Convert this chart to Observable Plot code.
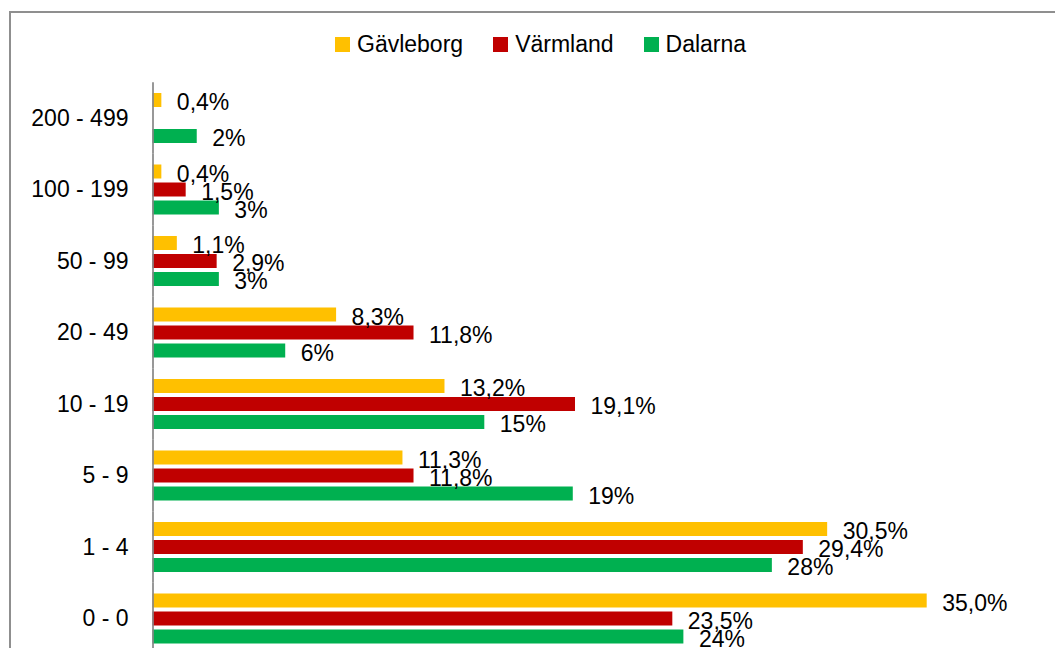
<!DOCTYPE html>
<html>
<head>
<meta charset="utf-8">
<script src="https://cdn.jsdelivr.net/npm/d3@7"></script>
<script src="https://cdn.jsdelivr.net/npm/@observablehq/plot@0.6"></script>
<style>
  html, body { margin: 0; padding: 0; background: #fff; overflow: hidden; }
  #wrap { position: relative; width: 1055px; height: 648px; overflow: hidden; font-family: "Liberation Sans", Arial, sans-serif; }
  #border { position: absolute; left: 9px; top: 11px; width: 1200px; height: 800px; border: 2px solid #8f8f8f; box-sizing: border-box; }
  #chart { position: absolute; left: 0; top: 0; }
  #legend { position: absolute; left: 335px; top: 31px; display: flex; align-items: center; gap: 30px; font-size: 23px; color: #000; }
  .item { display: flex; align-items: center; }
  .sw { width: 15px; height: 15px; margin-right: 7px; }
</style>
</head>
<body>
<div id="wrap">
  <div id="border"></div>
  <div id="chart"></div>
  <div id="legend"></div>
</div>
<script>
const categories = ["200 - 499", "100 - 199", "50 - 99", "20 - 49", "10 - 19", "5 - 9", "1 - 4", "0 - 0"];
const series = ["Gävleborg", "Värmland", "Dalarna"];
const colors = ["#FFC000", "#C00000", "#00B050"];
const decimals = [1, 1, 0];
const gavleborg = [0.4, 0.4, 1.1, 8.3, 13.2, 11.3, 30.5, 35.0];
const varmland  = [null, 1.5, 2.9, 11.8, 19.1, 11.8, 29.4, 23.5];
const dalarna   = [2, 3, 3, 6, 15, 19, 28, 24];

const seriesValues = [gavleborg, varmland, dalarna];
const data = [];
categories.forEach((c, i) => {
  series.forEach((s, j) => {
    const v = seriesValues[j][i];
    if (v != null) data.push({category: c, series: s, value: v, dec: decimals[j]});
  });
});
const fmt = d => d.value.toFixed(d.dec).replace(".", ",") + "%";

const chart = Plot.plot({
  width: 1055,
  height: 648,
  marginLeft: 152,
  marginRight: 17,
  marginTop: 0,
  marginBottom: 0,
  style: {fontSize: "23px", fontFamily: "'Liberation Sans', Arial, sans-serif", color: "#000", background: "transparent", overflow: "visible"},
  facet: {data: data, y: "category", marginTop: 0, marginBottom: 0, marginLeft: 152, marginRight: 17},
  fy: {domain: categories, range: [82.25, 654.25], padding: 0, round: false, axis: "left", tickSize: 0, tickPadding: 24, label: null},
  x: {domain: [0, 40], range: [152.5, 152.5 + 40 * 22.12], axis: null},
  y: {domain: series, paddingInner: 0.2222, paddingOuter: 0.597, round: false, axis: null},
  color: {domain: series, range: colors},
  marks: [
    Plot.barX(data, {x: "value", y: "series", fill: "series"}),
    Plot.text(data, {x: "value", y: "series", text: fmt, dx: 15, dy: 2.5, textAnchor: "start", fill: "#000"}),
    Plot.ruleX([0], {stroke: "#868686", strokeWidth: 1.7})
  ]
});
document.getElementById("chart").appendChild(chart);

const legend = document.getElementById("legend");
series.forEach((s, j) => {
  const item = document.createElement("div");
  item.className = "item";
  const sw = document.createElement("div");
  sw.className = "sw";
  sw.style.background = colors[j];
  const t = document.createElement("span");
  t.textContent = s;
  item.appendChild(sw);
  item.appendChild(t);
  legend.appendChild(item);
});
</script>
</body>
</html>
